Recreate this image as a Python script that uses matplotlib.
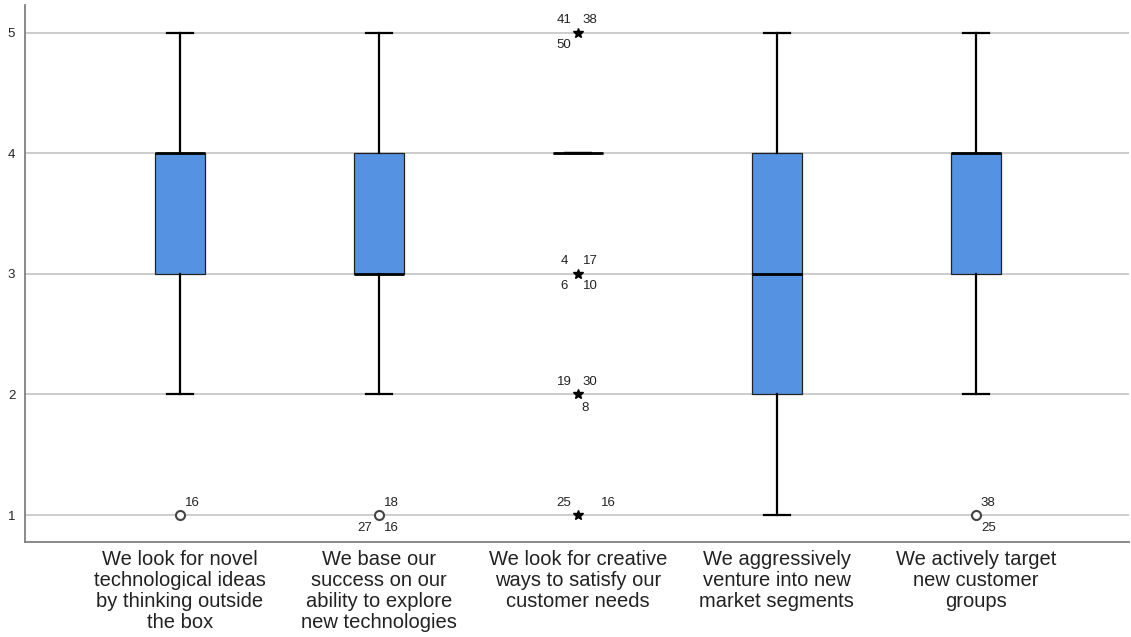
"""SPSS-style boxplot of five Likert items (1-5)."""

import matplotlib.pyplot as plt

plt.rcParams["font.family"] = ["Liberation Sans", "DejaVu Sans"]

categories = [
    "We look for novel\ntechnological ideas\nby thinking outside\nthe box",
    "We base our\nsuccess on our\nability to explore\nnew technologies",
    "We look for creative\nways to satisfy our\ncustomer needs",
    "We aggressively\nventure into new\nmarket segments",
    "We actively target\nnew customer\ngroups",
]
whisker_low = [2, 2, 4, 1, 2]
q1 = [3, 3, 4, 2, 3]
median = [4, 3, 4, 3, 4]
q3 = [4, 4, 4, 4, 4]
whisker_high = [5, 5, 4, 5, 5]

# outliers: (category index, value, kind, [(case label, slot), ...])
outliers = [
    (0, 1, "o", [("16", "ur")]),
    (1, 1, "o", [("18", "ur"), ("27", "ll"), ("16", "lr")]),
    (2, 5, "*", [("41", "ul"), ("38", "ur"), ("50", "ll")]),
    (2, 3, "*", [("4", "ul"), ("17", "ur"), ("6", "ll"), ("10", "lr")]),
    (2, 2, "*", [("19", "ul"), ("30", "ur"), ("8", "lo")]),
    (2, 1, "*", [("25", "ul"), ("16", "far")]),
    (4, 1, "o", [("38", "ur"), ("25", "lr")]),
]

SLOTS = {
    "ul": (-10, 9),
    "ur": (9, 9),
    "ll": (-10, -9),
    "lr": (9, -9),
    "lo": (5, -10),
    "far": (22, 9),
}
BOX_COLOR = "#5593e2"


def main():
    fig = plt.figure(figsize=(11.31, 6.37), dpi=100)
    ax = fig.add_axes([25 / 1131, 1 - 542 / 637, (1129 - 25) / 1131, (542 - 5) / 637])

    stats = [
        dict(whislo=lo, q1=a, med=m, q3=b, whishi=hi, fliers=[])
        for lo, a, m, b, hi in zip(whisker_low, q1, median, q3, whisker_high)
    ]
    positions = list(range(1, len(categories) + 1))
    ax.bxp(
        stats,
        positions=positions,
        widths=0.25,
        patch_artist=True,
        showfliers=False,
        boxprops=dict(facecolor=BOX_COLOR, edgecolor="#222222", linewidth=0.9),
        medianprops=dict(color="black", linewidth=2.0, solid_capstyle="butt"),
        whiskerprops=dict(color="black", linewidth=1.6),
        capprops=dict(color="black", linewidth=1.6),
        capwidths=0.13,
        zorder=3,
    )

    for idx, value, kind, labels in outliers:
        x = positions[idx]
        if kind == "o":
            ax.plot(x, value, "o", markersize=6.5, markerfacecolor="white",
                    markeredgecolor="#444444", markeredgewidth=1.5, zorder=4)
        else:
            ax.plot(x, value, "*", markersize=7, color="black", zorder=4)
        for text, slot in labels:
            ax.annotate(text, (x, value), xytext=SLOTS[slot], textcoords="offset points",
                        ha="center", va="center", fontsize=9.5, color="#222222")

    ax.set_xlim(0.222, 5.77)
    ax.set_ylim(0.776, 5.232)
    ax.set_yticks([1, 2, 3, 4, 5])
    ax.set_xticks(positions)
    ax.set_xticklabels(categories, fontsize=14.5, color="#222222", linespacing=1.13)
    ax.tick_params(axis="x", length=0, pad=6)
    ax.tick_params(axis="y", length=0, pad=7, labelsize=9.5, labelcolor="#222222")
    ax.grid(axis="y", color="#c8c8c8", linewidth=1.3)
    ax.set_axisbelow(True)
    for side in ("top", "right"):
        ax.spines[side].set_visible(False)
    for side in ("left", "bottom"):
        ax.spines[side].set_color("#808080")
        ax.spines[side].set_linewidth(1.3)

    fig.savefig("out.png", dpi=100)


if __name__ == "__main__":
    main()
